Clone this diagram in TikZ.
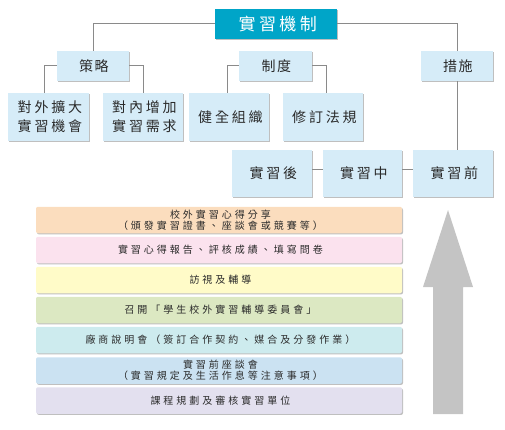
\documentclass[tikz,border=0pt]{standalone}
\usepackage{fontspec}
\usetikzlibrary{shadows}
\newfontfamily\cjktitle[LetterSpace=20]{Noto Sans CJK TC}
\newfontfamily\cjkmid[LetterSpace=12]{Noto Sans CJK TC}
\newfontfamily\cjkbox[LetterSpace=20]{Noto Sans CJK TC}
\newfontfamily\cjkbar[LetterSpace=30]{Noto Sans CJK TC}
\newcommand\lsk[1]{\hspace*{#1em}}
\definecolor{teal0}{HTML}{00A5C8}
\definecolor{lblue}{HTML}{D6ECF8}
\definecolor{lnc}{HTML}{8A8A8A}
\definecolor{txt}{HTML}{2A2A2A}
\definecolor{cOr}{HTML}{FBDDBE}
\definecolor{cPk}{HTML}{FBE2EE}
\definecolor{cYe}{HTML}{FFFBC8}
\definecolor{cGr}{HTML}{DCE8C2}
\definecolor{cCy}{HTML}{CDEBEE}
\definecolor{cBl}{HTML}{CBE2F2}
\definecolor{cLa}{HTML}{E3E0EF}
\definecolor{arrowgray}{HTML}{C4C4C4}
\tikzset{
  shd/.style={drop shadow={shadow xshift=1pt,shadow yshift=-1.2pt,opacity=0.25,fill=black}},
  titlebox/.style={shd,fill=teal0,text=white,inner sep=0pt,minimum width=122pt,minimum height=30pt,font=\cjktitle\fontsize{17}{20}\selectfont,execute at begin node=\lsk{0.2}},
  midbox/.style={shd,fill=lblue,text=txt,inner sep=0pt,minimum width=72pt,minimum height=30pt,font=\cjkmid\fontsize{14}{16}\selectfont,execute at begin node=\lsk{0.12}},
  leafbox/.style={shd,fill=lblue,text=txt,inner sep=0pt,minimum width=80pt,minimum height=48pt,align=center,font=\cjkbox\fontsize{14}{19}\selectfont},
  bar/.style={shd,rounded corners=2pt,text=txt,inner sep=0pt,minimum width=366pt,minimum height=26.5pt,align=center,font=\cjkbar\fontsize{10}{11}\selectfont},
  conn/.style={draw=lnc,line width=0.9pt}
}
\begin{document}
\begin{tikzpicture}[x=1pt,y=-1pt]
\useasboundingbox (0,0) rectangle (505,430);
% top
\node[titlebox] (top) at (276,24) {實習機制};
\node[midbox] (s1) at (93,66) {策略};
\node[midbox,minimum width=73pt] (s2) at (275.5,66) {制度};
\node[midbox] (s3) at (457,66) {措施};
% leaves
\node[leafbox,minimum width=81pt] (a1) at (48.5,117) {\lsk{0.2}對外擴大\\\lsk{0.2}實習機會};
\node[leafbox] (a2) at (143,117) {\lsk{0.2}對內增加\\\lsk{0.2}實習需求};
\node[leafbox] (b1) at (229,117) {\lsk{0.2}健全組織};
\node[leafbox] (b2) at (323,117) {\lsk{0.2}修訂法規};
\node[leafbox,minimum height=47pt] (q1) at (272,173.5) {\lsk{0.2}實習後};
\node[leafbox,minimum height=47pt,minimum width=79pt] (q2) at (362.5,173.5) {\lsk{0.2}實習中};
\node[leafbox,minimum height=47pt] (q3) at (453,173.5) {\lsk{0.2}實習前};
% connectors
\draw[conn] ([yshift=1]top.west) -| (s1.north);
\draw[conn] ([yshift=1]top.east) -| (s3.north);
\draw[conn] ([yshift=1]s1.west) -| ([xshift=-4.5]a1.north);
\draw[conn] ([yshift=1]s1.east) -| (a2.north);
\draw[conn] ([yshift=1]s2.west) -| ([xshift=-2]b1.north);
\draw[conn] ([yshift=1]s2.east) -| ([xshift=3]b2.north);
\draw[conn] (s3.south) -- (s3.south |- q3.north);
\draw[conn] ([yshift=4.5]q1.east) -- ([yshift=4.5]q2.west);
\draw[conn] ([yshift=4.5]q2.east) -- ([yshift=4.5]q3.west);
% bars
\node[bar,fill=cOr] (r1) at (219,220) {\lsk{0.3}校外實習心得分享\\\lsk{0.3}（頒發實習證書、座談會或競賽等）};
\node[bar,fill=cPk] (r2) at (219,250) {\lsk{0.3}實習心得報告、評核成績、填寫問卷};
\node[bar,fill=cYe] (r3) at (219,280) {\lsk{0.3}訪視及輔導};
\node[bar,fill=cGr] (r4) at (219,310) {\lsk{0.3}召開「學生校外實習輔導委員會」};
\node[bar,fill=cCy] (r5) at (219,340) {\lsk{0.3}廠商說明會（簽訂合作契約、媒合及分發作業）};
\node[bar,fill=cBl] (r6) at (219,370.5) {\lsk{0.3}實習前座談會\\\lsk{0.3}（實習規定及生活作息等注意事項）};
\node[bar,fill=cLa] (r7) at (219,400.5) {\lsk{0.3}課程規劃及審核實習單位};
% arrow
\fill[arrowgray] (448,210) -- (473,287) -- (463,287) -- (463,414) -- (433,414) -- (433,287) -- (423,287) -- cycle;
\end{tikzpicture}
\end{document}
